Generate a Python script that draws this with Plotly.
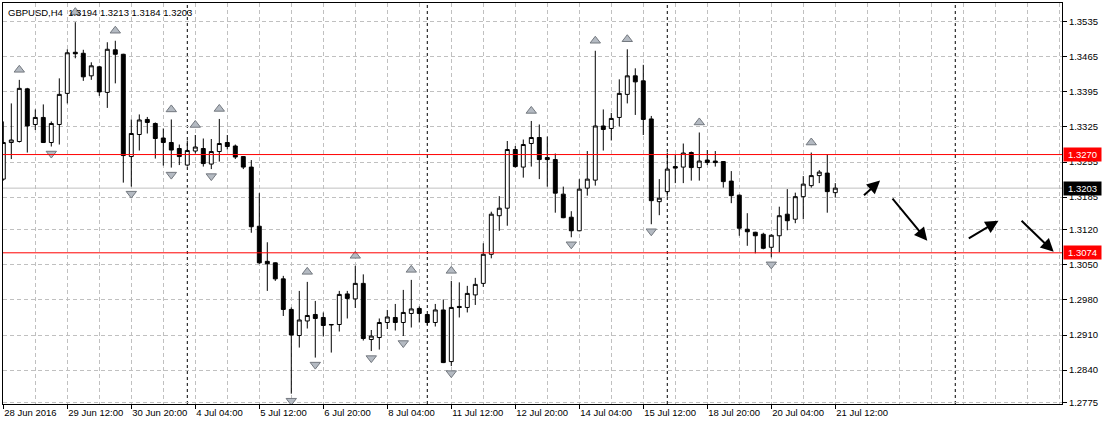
import plotly.graph_objects as go

# ---------------- data ----------------
symbol = "GBPUSD"
timeframe = "H4"

opens = [1.3221, 1.3294, 1.3296, 1.3401, 1.3330, 1.3344, 1.3294, 1.3330, 1.3392, 1.3474,
         1.3472, 1.3427, 1.3445, 1.3394, 1.3479, 1.3470, 1.3266, 1.3310, 1.3340, 1.3332,
         1.3303, 1.3294, 1.3282, 1.3249, 1.3277, 1.3282, 1.3251, 1.3276, 1.3294, 1.3287,
         1.3266, 1.3245, 1.3127, 1.3057, 1.3054, 1.3022, 1.2961, 1.2909, 1.2938, 1.2951,
         1.2945, 1.2930, 1.2931, 1.2992, 1.2982, 1.3013, 1.2901, 1.2905, 1.2935, 1.2945,
         1.2935, 1.2953, 1.2963, 1.2951, 1.2935, 1.2960, 1.2857, 1.2967, 1.2965, 1.2990,
         1.3013, 1.3071, 1.3148, 1.3163, 1.3280, 1.3245, 1.3292, 1.3304, 1.3264, 1.3260,
         1.3191, 1.3145, 1.3118, 1.3203, 1.3219, 1.3327, 1.3322, 1.3344, 1.3390, 1.3427,
         1.3417, 1.3341, 1.3176, 1.3196, 1.3246, 1.3245, 1.3274, 1.3244, 1.3259, 1.3257,
         1.3256, 1.3217, 1.3189, 1.3121, 1.3115, 1.3111, 1.3085, 1.3108, 1.3151, 1.3141,
         1.3186, 1.3208, 1.3228, 1.3233, 1.3194]
highs = [1.3336, 1.3372, 1.3419, 1.3403, 1.3360, 1.3370, 1.3336, 1.3422, 1.3480, 1.3534,
         1.3479, 1.3454, 1.3447, 1.3494, 1.3497, 1.3471, 1.3340, 1.3350, 1.3345, 1.3334,
         1.3322, 1.3340, 1.3290, 1.3298, 1.3309, 1.3302, 1.3301, 1.3341, 1.3309, 1.3290,
         1.3267, 1.3259, 1.3193, 1.3095, 1.3055, 1.3028, 1.2965, 1.2998, 1.3016, 1.2978,
         1.2955, 1.2932, 1.2998, 1.2998, 1.3048, 1.3031, 1.2920, 1.2943, 1.2960, 1.2972,
         1.3000, 1.3020, 1.2967, 1.2952, 1.2972, 1.2981, 1.3018, 1.3015, 1.3008, 1.3024,
         1.3093, 1.3156, 1.3187, 1.3297, 1.3287, 1.3300, 1.3337, 1.3330, 1.3306, 1.3272,
         1.3206, 1.3157, 1.3221, 1.3277, 1.3477, 1.3360, 1.3353, 1.3420, 1.3480, 1.3442,
         1.3449, 1.3347, 1.3221, 1.3274, 1.3269, 1.3292, 1.3276, 1.3314, 1.3279, 1.3277,
         1.3257, 1.3237, 1.3190, 1.3153, 1.3116, 1.3114, 1.3111, 1.3166, 1.3201, 1.3194,
         1.3227, 1.3274, 1.3239, 1.3270, 1.3213]
lows = [1.3218, 1.3261, 1.3294, 1.3274, 1.3319, 1.3293, 1.3286, 1.3290, 1.3372, 1.3462,
        1.3417, 1.3419, 1.3387, 1.3363, 1.3412, 1.3214, 1.3206, 1.3278, 1.3312, 1.3262,
        1.3248, 1.3244, 1.3249, 1.3246, 1.3272, 1.3246, 1.3241, 1.3256, 1.3280, 1.3261,
        1.3241, 1.3114, 1.3052, 1.2998, 1.3018, 1.2948, 1.2793, 1.2885, 1.2923, 1.2865,
        1.2907, 1.2875, 1.2917, 1.2943, 1.2964, 1.2899, 1.2878, 1.2881, 1.2922, 1.2919,
        1.2908, 1.2925, 1.2935, 1.2930, 1.2927, 1.2854, 1.2848, 1.2945, 1.2955, 1.2970,
        1.3006, 1.3063, 1.3118, 1.3128, 1.3244, 1.3224, 1.3246, 1.3221, 1.3206, 1.3154,
        1.3143, 1.3105, 1.3117, 1.3188, 1.3208, 1.3278, 1.3298, 1.3326, 1.3372, 1.3349,
        1.3309, 1.3131, 1.3149, 1.3186, 1.3213, 1.3213, 1.3218, 1.3218, 1.3249, 1.3246,
        1.3204, 1.3173, 1.3108, 1.3088, 1.3073, 1.3081, 1.3065, 1.3075, 1.3119, 1.3133,
        1.3141, 1.3204, 1.3213, 1.3154, 1.3184]
closes = [1.3294, 1.3299, 1.3402, 1.3327, 1.3344, 1.3294, 1.3332, 1.3390, 1.3473, 1.3471,
          1.3425, 1.3447, 1.3395, 1.3480, 1.3470, 1.3268, 1.3312, 1.3339, 1.3334, 1.3302,
          1.3294, 1.3279, 1.3266, 1.3278, 1.3285, 1.3252, 1.3276, 1.3292, 1.3286, 1.3265,
          1.3245, 1.3126, 1.3054, 1.3052, 1.3022, 1.2961, 1.2910, 1.2940, 1.2949, 1.2943,
          1.2929, 1.2931, 1.2991, 1.2983, 1.3013, 1.2903, 1.2908, 1.2935, 1.2946, 1.2935,
          1.2955, 1.2962, 1.2953, 1.2935, 1.2960, 1.2855, 1.2965, 1.2965, 1.2993, 1.3011,
          1.3071, 1.3151, 1.3163, 1.3280, 1.3246, 1.3290, 1.3304, 1.3260, 1.3260, 1.3193,
          1.3144, 1.3118, 1.3201, 1.3221, 1.3327, 1.3320, 1.3342, 1.3392, 1.3427, 1.3415,
          1.3340, 1.3178, 1.3183, 1.3241, 1.3243, 1.3273, 1.3244, 1.3257, 1.3254, 1.3254,
          1.3216, 1.3188, 1.3123, 1.3116, 1.3108, 1.3083, 1.3109, 1.3148, 1.3138, 1.3186,
          1.3211, 1.3228, 1.3235, 1.3196, 1.3203]

tick_bars = [0, 8, 16, 24, 32, 40, 48, 56, 64, 72, 80, 88, 96, 104]
tick_labels = ["28 Jun 2016", "29 Jun 12:00", "30 Jun 20:00", "4 Jul 04:00", "5 Jul 12:00",
               "6 Jul 20:00", "8 Jul 04:00", "11 Jul 12:00", "12 Jul 20:00", "14 Jul 04:00",
               "15 Jul 12:00", "18 Jul 20:00", "20 Jul 04:00", "21 Jul 12:00"]
price_ticks = [1.3535, 1.3465, 1.3395, 1.3325, 1.3255, 1.3185, 1.3120, 1.3050,
               1.2980, 1.2910, 1.2840, 1.2775]

levels = [1.3270, 1.3074]               # red horizontal lines
separators = [23, 53, 83, 119]          # weekly period separators (bar index)
fractal_up = [2, 9, 14, 21, 24, 27, 38, 44, 51, 56, 66, 74, 78, 87, 101]
fractal_down = [6, 16, 21, 26, 36, 39, 46, 50, 56, 71, 81, 96]

# hand-drawn forecast arrows (tail -> head), bar index / price
fc_x0 = [107.4, 111.0, 120.5, 127.1]
fc_y0 = [1.3186, 1.3185, 1.3101, 1.3141]
fc_x1 = [109.6, 115.5, 124.4, 131.3]
fc_y1 = [1.3218, 1.3098, 1.3138, 1.3076]

# ---------------- styling ----------------
FONT = "Liberation Sans, Arial, sans-serif"
GRID = "#c0c0c0"
X_RANGE = [-0.0375, 132.34]
Y_RANGE = [1.27724, 1.35723]
UP_OFF = 0.0020
DN_OFF = 0.0014

bars = list(range(len(opens)))

fig = go.Figure()

fig.add_trace(go.Candlestick(
    x=bars, open=opens, high=highs, low=lows, close=closes,
    increasing=dict(line=dict(color="black", width=1), fillcolor="white"),
    decreasing=dict(line=dict(color="black", width=1), fillcolor="black"),
    whiskerwidth=0, hoverinfo="skip", showlegend=False,
))

fig.add_trace(go.Scatter(
    x=fractal_up, y=[highs[i] + UP_OFF for i in fractal_up], mode="markers",
    marker=dict(symbol="triangle-up", size=9, color="#b4bac2",
                line=dict(color="#73787f", width=1)),
    hoverinfo="skip", showlegend=False,
))
fig.add_trace(go.Scatter(
    x=fractal_down, y=[lows[i] - DN_OFF for i in fractal_down], mode="markers",
    marker=dict(symbol="triangle-down", size=9, color="#b4bac2",
                line=dict(color="#73787f", width=1)),
    hoverinfo="skip", showlegend=False,
))

shapes = []
for s in separators:
    shapes.append(dict(type="line", xref="x", yref="paper", x0=s, x1=s, y0=0, y1=1,
                       line=dict(color="black", width=1, dash="3px,3px"), layer="below"))
bid = closes[-1]
shapes.append(dict(type="line", xref="paper", yref="y", x0=0, x1=1, y0=bid, y1=bid,
                   line=dict(color="#c0c0c0", width=1), layer="below"))
for lv in levels:
    shapes.append(dict(type="line", xref="paper", yref="y", x0=0, x1=1, y0=lv, y1=lv,
                       line=dict(color="#ff0000", width=1), layer="above"))

annotations = []
# header
annotations.append(dict(
    xref="paper", yref="paper", x=0, y=1, xanchor="left", yanchor="top",
    xshift=3, yshift=-2, showarrow=False,
    text=f"{symbol},{timeframe}\u00a0\u00a0{opens[-1]:.4f} {highs[-1]:.4f} {lows[-1]:.4f} {closes[-1]:.4f}",
    font=dict(family=FONT, size=9.5, color="black"),
))
# price labels on the axis
for val, bg in [(levels[0], "#ff0000"), (bid, "#000000"), (levels[1], "#ff0000")]:
    annotations.append(dict(
        xref="paper", yref="y", x=1, y=val, xanchor="left", yanchor="middle",
        xshift=1, showarrow=False, text=f"{val:.4f}", bgcolor=bg,
        font=dict(family=FONT, size=9.5, color="white"), borderpad=1,
        width=35, align="center",
    ))
# forecast arrows
for x0, y0, x1, y1 in zip(fc_x0, fc_y0, fc_x1, fc_y1):
    annotations.append(dict(
        x=x1, y=y1, ax=x0, ay=y0, xref="x", yref="y", axref="x", ayref="y",
        showarrow=True, arrowhead=2, arrowsize=1.3, arrowwidth=2, arrowcolor="black",
        text="",
    ))

fig.update_layout(
    width=1102, height=426,
    margin=dict(l=3, r=40, t=3, b=22),
    paper_bgcolor="white", plot_bgcolor="white",
    showlegend=False,
    font=dict(family=FONT, size=9.5, color="black"),
    shapes=shapes, annotations=annotations,
    xaxis=dict(
        range=X_RANGE, tickmode="array", tickvals=tick_bars, ticktext=tick_labels,
        ticks="outside", ticklen=4, tickcolor="black", ticklabelposition="outside right",
        showgrid=True, gridcolor=GRID, gridwidth=1, griddash="4px,3px",
        minor=dict(tickmode="linear", tick0=0, dtick=4, showgrid=True,
                   gridcolor=GRID, gridwidth=1, griddash="4px,3px", ticks=""),
        showline=True, linecolor="black", linewidth=1, mirror=True,
        zeroline=False, rangeslider=dict(visible=False), fixedrange=True,
        tickfont=dict(family=FONT, size=9.5, color="black"),
    ),
    yaxis=dict(
        side="right", range=Y_RANGE, tickmode="array", tickvals=price_ticks,
        ticktext=[f"{v:.4f}" for v in price_ticks],
        ticks="outside", ticklen=4, tickcolor="black",
        showgrid=True, gridcolor=GRID, gridwidth=1, griddash="4px,3px",
        showline=True, linecolor="black", linewidth=1, mirror=True,
        zeroline=False, fixedrange=True,
        tickfont=dict(family=FONT, size=9.5, color="black"),
    ),
)

fig.write_html("out.html", config={"displayModeBar": False})

# remove the browser's default page margin so the figure sits at (0, 0)
with open("out.html", "r", encoding="utf-8") as fh:
    html = fh.read()
html = html.replace("<head>", "<head><style>html,body{margin:0;padding:0;overflow:hidden;}</style>", 1)
with open("out.html", "w", encoding="utf-8") as fh:
    fh.write(html)
